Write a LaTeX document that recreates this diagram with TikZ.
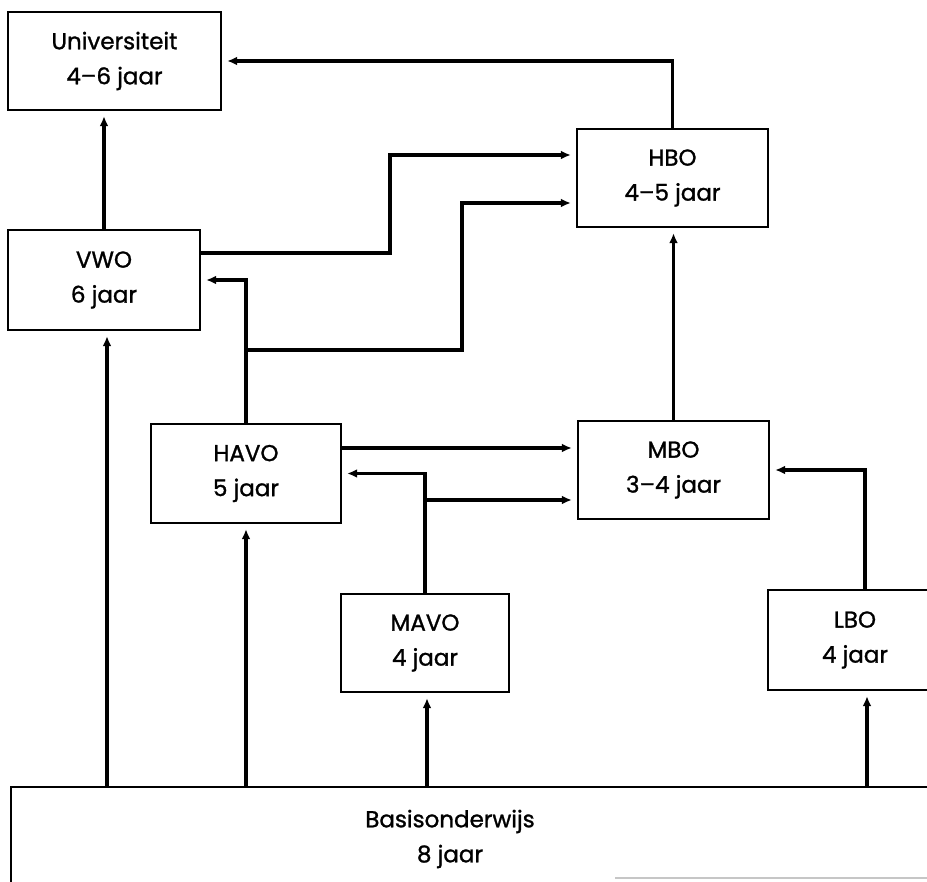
\documentclass[tikz,border=0pt]{standalone}
\usepackage{fontspec}
\setmainfont{Poppins}[FakeBold=1.2]
\usetikzlibrary{arrows.meta}
\begin{document}
\begin{tikzpicture}[x=1pt,y=-1pt,
  box/.style={draw, line width=2.4pt, rectangle, inner sep=0pt, align=center,
    font=\fontsize{23}{35}\selectfont},
  conn/.style={line width=3.4pt, shorten >=5pt, -{Latex[length=10pt,width=9pt]}},
  edge/.style={line width=2.4pt}]
\useasboundingbox (0,0) rectangle (927,882);
% boxes
\node[box, minimum width=213pt, minimum height=98pt] (univ) at (114.5,61) {Universiteit\\4–6 jaar};
\node[box, minimum width=191pt, minimum height=98pt] (hbo) at (672.5,178) {HBO\\4–5 jaar};
\node[box, minimum width=192pt, minimum height=100pt] (vwo) at (104,280) {VWO\\6 jaar};
\node[box, minimum width=190pt, minimum height=99pt] (havo) at (246,473.5) {HAVO\\5 jaar};
\node[box, minimum width=191pt, minimum height=98pt] (mbo) at (673.5,470) {MBO\\3–4 jaar};
\node[box, minimum width=168pt, minimum height=98pt] (mavo) at (425,643) {MAVO\\4 jaar};
\node[box, minimum width=174pt, minimum height=100pt] (lbo) at (855,640) {LBO\\4 jaar};
\node[box, draw=none, minimum width=876pt, minimum height=102pt] (basis) at (450,839) {Basisonderwijs\\8 jaar};
\draw[edge] (basis.south west) -- (basis.north west) -- ([xshift=60pt]basis.north east);
\draw[line width=1.2pt, gray!45] (615,878) -- (927,878);
% junctions
\coordinate (jh) at (246,350);
\coordinate (jm) at (425,500);
\coordinate (h1) at ([yshift=25.5pt]havo.east);
% connectors
\draw[conn] (vwo.north) -- (vwo.north |- univ.south);
\draw[conn] (hbo.north) |- (univ.east);
\draw[conn] ([yshift=27pt]vwo.east) -| (390,155) -- ([yshift=23pt]hbo.west);
\draw[conn] (havo.north) |- (vwo.east);
\draw[conn] (jh) -| (462,203) -- ([yshift=-25pt]hbo.west);
\draw[conn] (h1) -- (h1 -| mbo.west);
\draw[conn] (mavo.north) |- (havo.east);
\draw[conn] (jm) -- (jm -| mbo.west);
\draw[conn] (mbo.north) -- (mbo.north |- hbo.south);
\draw[conn] ([xshift=10pt]lbo.north) |- (mbo.east);
\draw[conn] ([xshift=3pt]vwo.south |- basis.north) -- ([xshift=3pt]vwo.south);
\draw[conn] (havo.south |- basis.north) -- (havo.south);
\draw[conn] ([xshift=2pt]mavo.south |- basis.north) -- ([xshift=2pt]mavo.south);
\draw[conn] ([xshift=12pt]lbo.south |- basis.north) -- ([xshift=12pt]lbo.south);
\end{tikzpicture}
\end{document}
